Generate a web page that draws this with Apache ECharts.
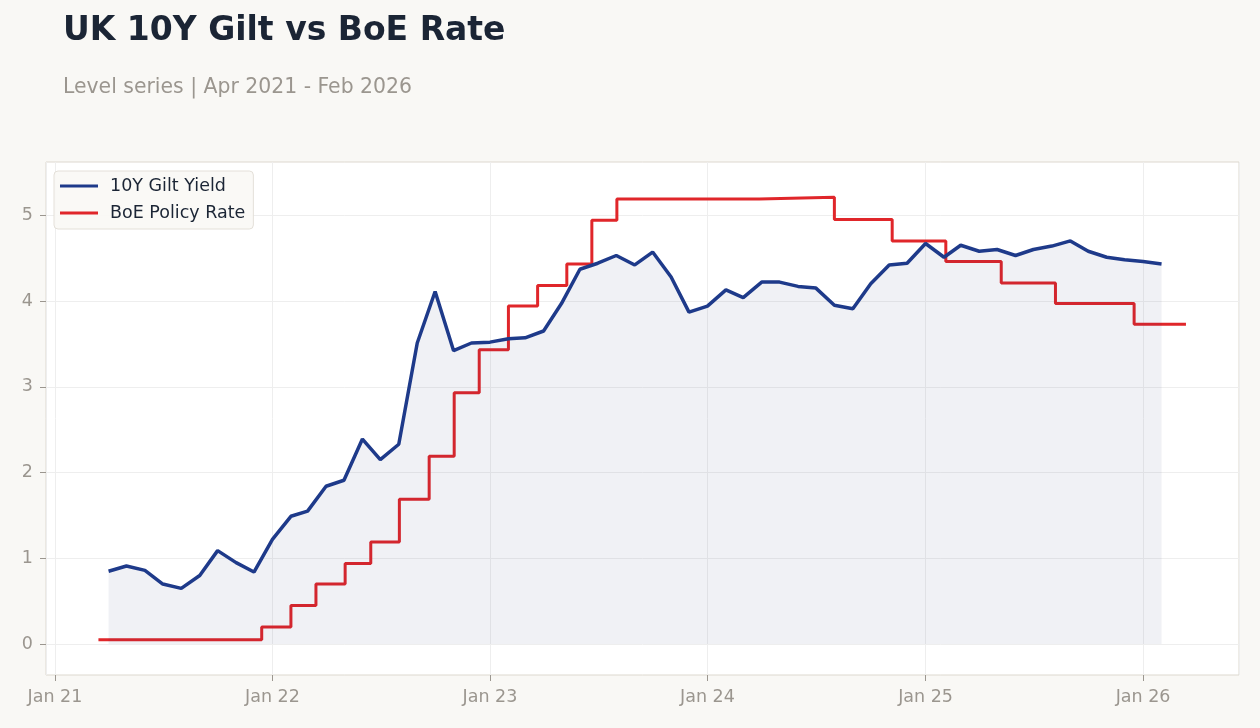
<!DOCTYPE html>
<html lang="en">
<head>
    <meta charset="UTF-8">
    <title>UK 10Y Gilt vs BoE Rate</title>
    <script src="https://cdn.jsdelivr.net/npm/echarts@6/dist/echarts.min.js"></script>
    <style>
        html, body { margin: 0; padding: 0; background: #f9f8f5; }
        #chart { width: 1260px; height: 728px; }
    </style>
</head>
<body>
<div id="chart"></div>
<script>
    // monthly 10Y gilt yield, Apr 2021 .. Feb 2026
    const giltStart = [2021, 3];
    const giltYield = [
        0.85, 0.91, 0.86, 0.70, 0.65, 0.80, 1.09, 0.95, 0.84,
        1.22, 1.49, 1.55, 1.84, 1.91, 2.39, 2.15, 2.33, 3.51, 4.11, 3.42, 3.51,
        3.52, 3.56, 3.57, 3.65, 3.97, 4.37, 4.44, 4.53, 4.42, 4.57, 4.28, 3.87,
        3.94, 4.13, 4.04, 4.22, 4.22, 4.17, 4.15, 3.95, 3.91, 4.20, 4.42, 4.44,
        4.67, 4.51, 4.65, 4.58, 4.60, 4.53, 4.60, 4.64, 4.70, 4.58, 4.51, 4.48,
        4.46, 4.43
    ];

    // policy rate: level in force from each date
    const boeDates = [
        '2021-03-15', '2021-12-14', '2022-02-01', '2022-03-15', '2022-05-03',
        '2022-06-15', '2022-08-02', '2022-09-21', '2022-11-02', '2022-12-14',
        '2023-02-01', '2023-03-22', '2023-05-10', '2023-06-21', '2023-08-02',
        '2024-03-28', '2024-08-01', '2024-11-06', '2025-02-04', '2025-05-08',
        '2025-08-07', '2025-12-17', '2026-03-14'
    ];
    const boeRates = [
        0.05, 0.20, 0.45, 0.70, 0.94,
        1.19, 1.69, 2.19, 2.93, 3.43,
        3.94, 4.18, 4.43, 4.94, 5.19,
        5.21, 4.95, 4.70, 4.46, 4.21,
        3.97, 3.73, 3.73
    ];

    const yTicks = [0, 1, 2, 3, 4, 5];
    const monthNames = ['Jan','Feb','Mar','Apr','May','Jun','Jul','Aug','Sep','Oct','Nov','Dec'];
    const DAY = 86400000;

    const giltData = giltYield.map((v, i) => {
        const d = Date.UTC(giltStart[0], giltStart[1] + i, 1);
        return [d, v];
    });
    const boeData = boeDates.map((d, i) => [Date.parse(d), boeRates[i]]);

    const option = {
        backgroundColor: '#f9f8f5',
        animation: false,
        useUTC: true,
        title: {
            text: 'UK 10Y Gilt vs BoE Rate',
            subtext: 'Level series | Apr 2021 - Feb 2026',
            left: 58,
            top: 10,
            itemGap: 30,
            textStyle: {
                fontFamily: 'DejaVu Sans',
                fontSize: 33,
                fontWeight: 'bold',
                color: '#1b2535'
            },
            subtextStyle: {
                fontFamily: 'DejaVu Sans',
                fontSize: 20.4,
                color: '#9b968f'
            }
        },
        legend: {
            left: 54,
            top: 171,
            orient: 'vertical',
            padding: [6, 8, 7, 6],
            itemGap: 9,
            itemWidth: 38,
            itemHeight: 3,
            icon: 'rect',
            backgroundColor: 'rgba(249,248,245,0.9)',
            borderColor: '#e4e0d9',
            borderWidth: 1,
            borderRadius: 4,
            textStyle: {
                fontFamily: 'DejaVu Sans',
                fontSize: 17.5,
                lineHeight: 18,
                padding: [0, 0, 0, 7],
                color: '#1b2535'
            },
            data: ['10Y Gilt Yield', 'BoE Policy Rate']
        },
        grid: {
            left: 46,
            top: 162,
            right: 21,
            bottom: 53,
            show: true,
            backgroundColor: '#ffffff',
            borderColor: '#ddd8cf',
            borderWidth: 1
        },
        xAxis: {
            type: 'time',
            min: Date.parse('2020-12-17'),
            max: Date.parse('2026-06-11'),
            minInterval: 365 * DAY,
            maxInterval: 366 * DAY,
            axisLine: { show: false, onZero: false },
            axisTick: {
                show: true,
                length: 6,
                lineStyle: { color: '#9b968f' }
            },
            axisLabel: {
                fontFamily: 'DejaVu Sans',
                fontSize: 17.5,
                color: '#9b968f',
                margin: 13,
                formatter: function (value) {
                    const d = new Date(value);
                    return monthNames[d.getUTCMonth()] + ' ' + String(d.getUTCFullYear()).slice(2);
                }
            },
            splitLine: { show: true, lineStyle: { color: '#eeeeee' } }
        },
        yAxis: {
            type: 'value',
            min: -0.36,
            max: 5.62,
            axisLine: { show: false, onZero: false },
            axisTick: {
                show: true,
                length: 6,
                customValues: yTicks,
                lineStyle: { color: '#9b968f' }
            },
            axisLabel: {
                customValues: yTicks,
                fontFamily: 'DejaVu Sans',
                fontSize: 17.5,
                color: '#9b968f',
                margin: 13
            },
            splitLine: { show: true, lineStyle: { color: '#eeeeee' } }
        },
        series: [
            {
                name: '10Y Gilt Yield',
                type: 'line',
                data: giltData,
                symbol: 'none',
                lineStyle: { color: '#1e3a8a', width: 3.5 },
                itemStyle: { color: '#1e3a8a' },
                areaStyle: { color: 'rgba(30,45,110,0.095)', origin: 0 },
                z: 3
            },
            {
                name: 'BoE Policy Rate',
                type: 'line',
                step: 'end',
                data: boeData,
                symbol: 'none',
                lineStyle: { color: '#e0262a', width: 3 },
                itemStyle: { color: '#e0262a' },
                z: 2
            }
        ]
    };

    const myChart = echarts.init(document.getElementById('chart'));
    myChart.setOption(option);
</script>
</body>
</html>
